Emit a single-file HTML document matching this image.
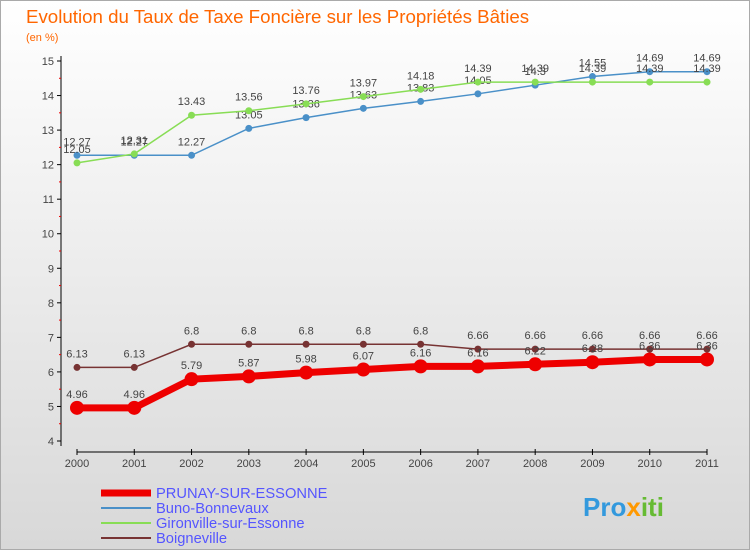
<!DOCTYPE html>
<html><head><meta charset="utf-8"><style>
body{margin:0;width:750px;height:550px;overflow:hidden;font-family:"Liberation Sans",sans-serif}
#c{position:absolute;left:0;top:0;width:748px;height:548px;border:1px solid #aaa;background:linear-gradient(#fff,#d8d8d8)}
</style></head><body>
<div id="c">
<svg id="s" width="750" height="550" style="position:absolute;left:0;top:0">
<text x="25" y="22" font-size="18.7" fill="#ff6600">Evolution du Taux de Taxe Foncière sur les Propriétés Bâties</text>
<text x="25" y="40" font-size="11" fill="#ff6600">(en %)</text>
<g id="ax"></g><g id="ser"></g>
<g font-size="14.7">
<line x1="100" y1="492" x2="150" y2="492" stroke="#ee0000" stroke-width="7"/>
<text x="155" y="497" fill="#5555ff">PRUNAY-SUR-ESSONNE</text>
<line x1="100" y1="507" x2="150" y2="507" stroke="#4a90c8" stroke-width="2"/>
<text x="155" y="512" fill="#5555ff">Buno-Bonnevaux</text>
<line x1="100" y1="522" x2="150" y2="522" stroke="#88dd55" stroke-width="2"/>
<text x="155" y="527" fill="#5555ff">Gironville-sur-Essonne</text>
<line x1="100" y1="537" x2="150" y2="537" stroke="#773333" stroke-width="2"/>
<text x="155" y="542" fill="#5555ff">Boigneville</text>
</g>
<text x="582" y="515" font-size="26" font-weight="bold" fill="#3399dd">Pro<tspan fill="#ff9900">x</tspan><tspan fill="#66bb33">iti</tspan></text>
</svg></div>
<script>
const years=["2000","2001","2002","2003","2004","2005","2006","2007","2008","2009","2010","2011"];
const yTicks=[4,5,6,7,8,9,10,11,12,13,14,15];
const prunay=[4.96,4.96,5.79,5.87,5.98,6.07,6.16,6.16,6.22,6.28,6.36,6.36];
const buno=[12.27,12.27,12.27,13.05,13.36,13.63,13.83,14.05,14.3,14.55,14.69,14.69];
const gironville=[12.05,12.31,13.43,13.56,13.76,13.97,14.18,14.39,14.39,14.39,14.39,14.39];
const boigneville=[6.13,6.13,6.8,6.8,6.8,6.8,6.8,6.66,6.66,6.66,6.66,6.66];
const NS="http://www.w3.org/2000/svg";
const X=i=>76+i*(630/11), Y=v=>440-(v-4)*(380/11);
function mk(t,a,p){const e=document.createElementNS(NS,t);for(const k in a)e.setAttribute(k,a[k]);p.appendChild(e);return e;}
const ax=document.getElementById('ax'),ser=document.getElementById('ser');
let l=mk('line',{x1:60,y1:55,x2:60,y2:445,stroke:'#000'},ax);


l=mk('line',{x1:76,y1:451,x2:706,y2:451,stroke:'#000'},ax);


yTicks.forEach(v=>{
 mk('line',{x1:56,y1:Y(v),x2:60,y2:Y(v),stroke:'#000'},ax);
 if(v<15)mk('line',{x1:58,y1:Y(v+0.5),x2:60,y2:Y(v+0.5),stroke:'#e00'},ax);
 const t=mk('text',{x:53,y:Y(v)+4,'font-size':11,'text-anchor':'end',fill:'#444'},ax);t.textContent=v;
 
 
});
years.forEach((y,i)=>{
 mk('line',{x1:X(i),y1:448,x2:X(i),y2:454,stroke:'#000'},ax);
 const t=mk('text',{x:X(i),y:466,'font-size':11,'text-anchor':'middle',fill:'#444'},ax);t.textContent=y;
 
 
});
function series(d,col,w,r,name){
 const g=mk('g',{},ser);
 
 
 mk('polyline',{points:d.map((v,i)=>X(i)+','+Y(v)).join(' '),fill:'none',stroke:col,'stroke-width':w},g);
 d.forEach((v,i)=>{
  const c=mk('circle',{cx:X(i),cy:Y(v),r:r,fill:col},g);
  
  
  const t=mk('text',{x:X(i),y:Y(v)-10,'font-size':11,'text-anchor':'middle',fill:'#444'},g);
  t.textContent=String(v);
  
  
 });
}
series(buno,'#4a90c8',1.5,3.5,'buno');
series(gironville,'#88dd55',1.5,3.5,'gironville');
series(boigneville,'#773333',1.5,3.5,'boigneville');
series(prunay,'#ee0000',7,7,'prunay');
</script>
</body></html>
